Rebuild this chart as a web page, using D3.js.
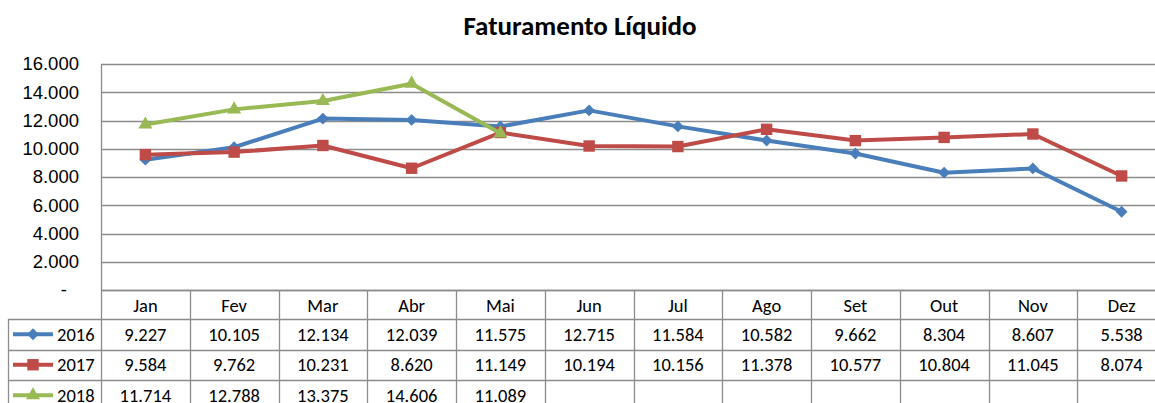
<!DOCTYPE html>
<html>
<head>
<meta charset="utf-8">
<script src="https://cdn.jsdelivr.net/npm/d3@7"></script>
<style>
  body { margin: 0; background: #fff; }
  svg { display: block; font-family: Calibri, Carlito, "Open Sans", sans-serif; }
</style>
</head>
<body>
<script>
// dados do grafico
var meses = ["Jan", "Fev", "Mar", "Abr", "Mai", "Jun", "Jul", "Ago", "Set", "Out", "Nov", "Dez"];
var anos = ["2016", "2017", "2018"];
var v2016 = [9227, 10105, 12134, 12039, 11575, 12715, 11584, 10582, 9662, 8304, 8607, 5538];
var v2017 = [9584, 9762, 10231, 8620, 11149, 10194, 10156, 11378, 10577, 10804, 11045, 8074];
var v2018 = [11714, 12788, 13375, 14606, 11089];
var yTicks = [0, 2000, 4000, 6000, 8000, 10000, 12000, 14000, 16000];

var width = 1155, height = 403;
var plot = { left: 101, right: 1166, top: 64, bottom: 290 };
var rowH = 30.5, headH = 29;
var fs = 18.5;

var series = [
    { ano: anos[0], valores: v2016, cor: "#4a7ebb", simbolo: "diamond" },
    { ano: anos[1], valores: v2017, cor: "#be4b48", simbolo: "square" },
    { ano: anos[2], valores: v2018, cor: "#98b954", simbolo: "triangle" }
];

var br = d3.formatLocale({ decimal: ",", thousands: ".", grouping: [3], currency: ["R$", ""] });
var fmt = br.format(",");

var x = d3.scaleBand()
    .domain(meses)
    .range([plot.left, plot.right]);

var y = d3.scaleLinear()
    .domain([0, 16000])
    .range([plot.bottom, plot.top]);

var svg = d3.select("body").append("svg")
    .attr("width", width)
    .attr("height", height);

// titulo
svg.append("text")
    .attr("x", 580)
    .attr("y", 35)
    .attr("text-anchor", "middle")
    .attr("font-size", 27)
    .attr("font-weight", "bold")
    .text("Faturamento Líquido");

// linhas de grade
svg.append("g")
    .selectAll("line")
    .data(yTicks)
    .enter().append("line")
    .attr("x1", plot.left)
    .attr("x2", plot.right)
    .attr("y1", function (d) { return Math.round(y(d)) + 0.5; })
    .attr("y2", function (d) { return Math.round(y(d)) + 0.5; })
    .attr("stroke", "#8c8c8c")
    .attr("stroke-width", 1.3);

// eixo y
var eixoY = svg.append("g")
    .attr("transform", "translate(" + plot.left + ",0)")
    .call(d3.axisLeft(y).tickValues(yTicks).tickSize(0).tickPadding(22)
        .tickFormat(function (d) { return d === 0 ? "-" : fmt(d); }));
eixoY.select(".domain").remove();
eixoY.selectAll("text")
    .attr("font-family", null)
    .attr("font-size", fs)
    .attr("fill", "#000");
eixoY.selectAll(".tick")
    .filter(function (d) { return d === 0; })
    .select("text")
    .attr("dx", -12);

// tabela de dados
var tabela = svg.append("g")
    .attr("stroke", "#8c8c8c")
    .attr("stroke-width", 1.3);

var tabTop = plot.bottom, tabHead = plot.bottom + headH;
var linhasY = [tabHead, tabHead + rowH, tabHead + 2 * rowH, tabHead + 3 * rowH];

tabela.append("line")
    .attr("x1", plot.left).attr("x2", plot.right)
    .attr("y1", tabTop + 0.5).attr("y2", tabTop + 0.5);

tabela.selectAll("line.h")
    .data(linhasY)
    .enter().append("line")
    .attr("class", "h")
    .attr("x1", 8).attr("x2", plot.right)
    .attr("y1", function (d) { return Math.round(d) + 0.5; })
    .attr("y2", function (d) { return Math.round(d) + 0.5; });

tabela.selectAll("line.v")
    .data(meses.concat(["fim"]))
    .enter().append("line")
    .attr("class", "v")
    .attr("x1", function (d, i) { return Math.round(plot.left + i * x.bandwidth()) + 0.5; })
    .attr("x2", function (d, i) { return Math.round(plot.left + i * x.bandwidth()) + 0.5; })
    .attr("y1", function (d, i) { return i === 0 ? plot.top : tabTop; })
    .attr("y2", height);

tabela.append("line")
    .attr("x1", 8.5).attr("x2", 8.5)
    .attr("y1", tabHead).attr("y2", height);

// cabecalho dos meses
svg.append("g")
    .selectAll("text")
    .data(meses)
    .enter().append("text")
    .attr("x", function (d) { return x(d) + x.bandwidth() / 2; })
    .attr("y", tabTop + headH / 2 + 1)
    .attr("dy", "0.35em")
    .attr("text-anchor", "middle")
    .attr("font-size", fs)
    .text(function (d) { return d; });

// linhas da tabela com valores
var linha = svg.append("g")
    .selectAll("g")
    .data(series)
    .enter().append("g")
    .attr("transform", function (d, i) {
        return "translate(0," + (tabHead + i * rowH + rowH / 2) + ")";
    });

linha.selectAll("text.val")
    .data(function (d) { return d.valores; })
    .enter().append("text")
    .attr("class", "val")
    .attr("x", function (d, i) { return x(meses[i]) + x.bandwidth() / 2; })
    .attr("dy", "0.35em")
    .attr("text-anchor", "middle")
    .attr("font-size", fs)
    .text(function (d) { return fmt(d); });

// legenda dentro da tabela
linha.append("line")
    .attr("x1", 13).attr("x2", 53)
    .attr("stroke", function (d) { return d.cor; })
    .attr("stroke-width", 4);

linha.append("text")
    .attr("x", 57)
    .attr("dy", "0.35em")
    .attr("font-size", fs)
    .text(function (d) { return d.ano; });

function marcador(tipo) {
    if (tipo === "diamond") return d3.symbol().type(d3.symbolSquare).size(70)();
    if (tipo === "square") return d3.symbol().type(d3.symbolSquare).size(130)();
    return d3.symbol().type(d3.symbolTriangle).size(85)();
}

linha.append("path")
    .attr("d", function (d) { return marcador(d.simbolo); })
    .attr("transform", function (d) { return "translate(33,0)" + (d.simbolo === "diamond" ? " rotate(45)" : ""); })
    .attr("fill", function (d) { return d.cor; });

// linhas do grafico
var linhaGen = d3.line()
    .x(function (d, i) { return x(meses[i]) + x.bandwidth() / 2; })
    .y(function (d) { return y(d); });

var serieG = svg.append("g")
    .selectAll("g")
    .data(series)
    .enter().append("g");

serieG.append("path")
    .attr("d", function (d) { return linhaGen(d.valores); })
    .attr("fill", "none")
    .attr("stroke", function (d) { return d.cor; })
    .attr("stroke-width", 4)
    .attr("stroke-linejoin", "round");

serieG.selectAll("path.m")
    .data(function (d) {
        return d.valores.map(function (v, i) { return { v: v, i: i, s: d }; });
    })
    .enter().append("path")
    .attr("class", "m")
    .attr("d", function (d) { return marcador(d.s.simbolo); })
    .attr("transform", function (d) {
        return "translate(" + (x(meses[d.i]) + x.bandwidth() / 2) + "," + y(d.v) + ")" +
            (d.s.simbolo === "diamond" ? " rotate(45)" : "");
    })
    .attr("fill", function (d) { return d.s.cor; });
</script>
</body>
</html>
